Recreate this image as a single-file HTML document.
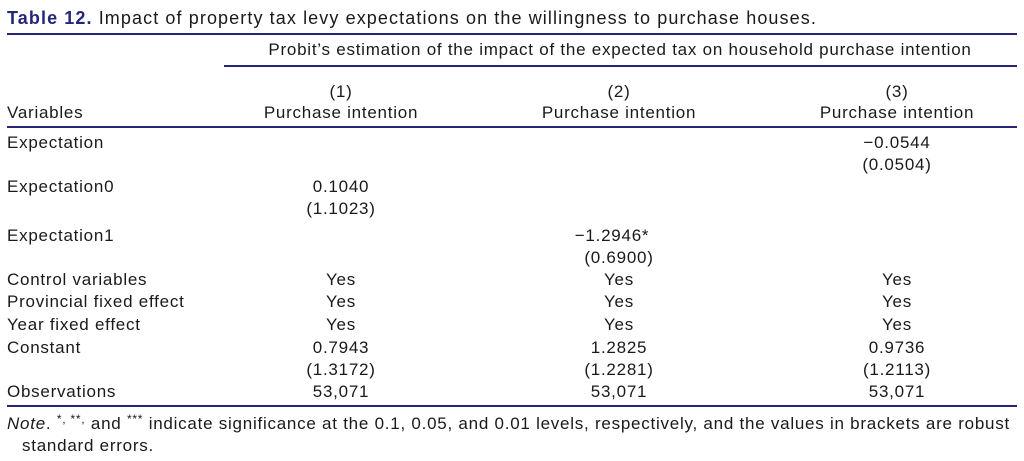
<!DOCTYPE html>
<html><head><meta charset="utf-8"><style>
body{margin:0;width:1024px;height:461px;background:#fff;overflow:hidden;font-family:"Liberation Sans",sans-serif;color:#1a1a1a;font-size:17px;letter-spacing:0.75px;}
.t{position:absolute;white-space:nowrap;line-height:20px;transform:translateY(-10px);}
.c{transform:translate(-50%,-10px);}
.l{position:absolute;background:#25257a;height:2px;}
.s{font-size:12px;position:relative;top:-6px;line-height:0;}
</style></head><body>
<div class="t" style="left:7px;top:18px;font-size:18px;letter-spacing:1.1px"><b style="color:#25257a">Table 12.</b> Impact of property tax levy expectations on the willingness to purchase houses.</div>
<div class="l" style="left:7px;right:7px;top:33px"></div>
<div class="t c" style="left:620px;top:50px">Probit’s estimation of the impact of the expected tax on household purchase intention</div>
<div class="l" style="left:224px;right:7px;top:65px"></div>
<div class="t c" style="left:341px;top:92px">(1)</div>
<div class="t c" style="left:619px;top:92px">(2)</div>
<div class="t c" style="left:897px;top:92px">(3)</div>
<div class="t" style="left:7px;top:113px">Variables</div>
<div class="t c" style="left:341px;top:113px">Purchase intention</div>
<div class="t c" style="left:619px;top:113px">Purchase intention</div>
<div class="t c" style="left:897px;top:113px">Purchase intention</div>
<div class="l" style="left:7px;right:7px;top:126px"></div>
<div class="t" style="left:7px;top:143px">Expectation</div>
<div class="t c" style="left:897px;top:143px">−0.0544</div>
<div class="t c" style="left:897px;top:165px">(0.0504)</div>
<div class="t" style="left:7px;top:187px">Expectation0</div>
<div class="t c" style="left:341px;top:187px">0.1040</div>
<div class="t c" style="left:341px;top:209px">(1.1023)</div>
<div class="t" style="left:7px;top:236px">Expectation1</div>
<div class="t c" style="left:612px;top:236px">−1.2946*</div>
<div class="t c" style="left:619px;top:258px">(0.6900)</div>
<div class="t" style="left:7px;top:280px">Control variables</div>
<div class="t c" style="left:341px;top:280px">Yes</div><div class="t c" style="left:619px;top:280px">Yes</div><div class="t c" style="left:897px;top:280px">Yes</div>
<div class="t" style="left:7px;top:302px">Provincial fixed effect</div>
<div class="t c" style="left:341px;top:302px">Yes</div><div class="t c" style="left:619px;top:302px">Yes</div><div class="t c" style="left:897px;top:302px">Yes</div>
<div class="t" style="left:7px;top:325px">Year fixed effect</div>
<div class="t c" style="left:341px;top:325px">Yes</div><div class="t c" style="left:619px;top:325px">Yes</div><div class="t c" style="left:897px;top:325px">Yes</div>
<div class="t" style="left:7px;top:348px">Constant</div>
<div class="t c" style="left:341px;top:348px">0.7943</div><div class="t c" style="left:619px;top:348px">1.2825</div><div class="t c" style="left:897px;top:348px">0.9736</div>
<div class="t c" style="left:341px;top:370px">(1.3172)</div><div class="t c" style="left:619px;top:370px">(1.2281)</div><div class="t c" style="left:897px;top:370px">(1.2113)</div>
<div class="t" style="left:7px;top:392px">Observations</div>
<div class="t c" style="left:341px;top:392px">53,071</div><div class="t c" style="left:619px;top:392px">53,071</div><div class="t c" style="left:897px;top:392px">53,071</div>
<div class="l" style="left:7px;right:7px;top:405px"></div>
<div class="t" style="left:7px;top:424px"><i>Note</i>. <span class="s">*, **,</span> and <span class="s">***</span> indicate significance at the 0.1, 0.05, and 0.01 levels, respectively, and the values in brackets are robust</div>
<div class="t" style="left:22px;top:446px">standard errors.</div>
</body></html>
